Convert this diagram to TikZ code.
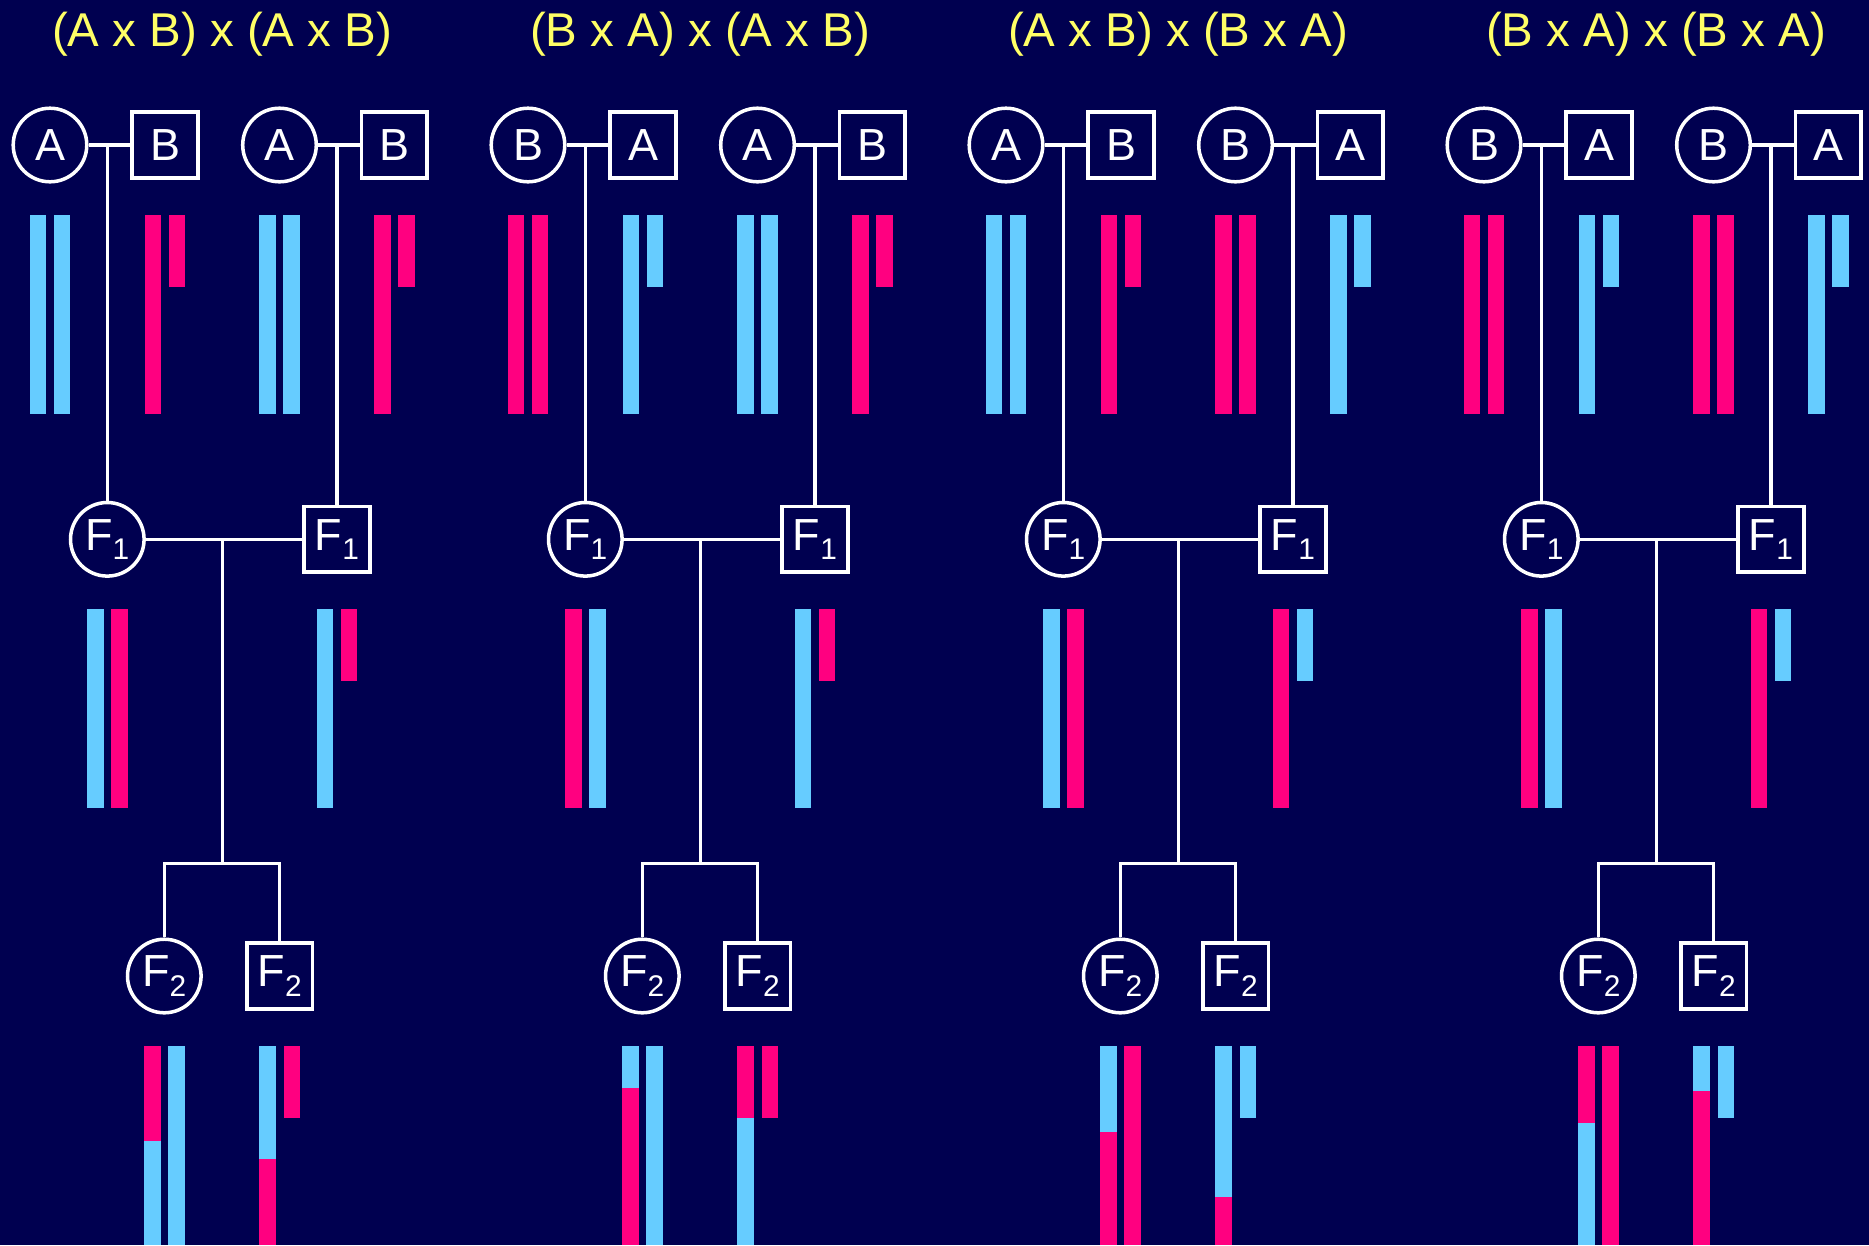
\documentclass[tikz,border=0pt]{standalone}
\usepackage{fontspec}
\setmainfont{Liberation Sans}
\definecolor{bg}{RGB}{0,0,80}
\definecolor{colA}{RGB}{102,204,255}
\definecolor{colB}{RGB}{255,0,128}
\definecolor{ttl}{RGB}{255,255,102}
\tikzset{
  pedline/.style={draw=white, line width=2pt},
  fem/.style={circle, draw=white, line width=2pt, minimum size=1.472cm, inner sep=0pt, text=white, font=\fontsize{25.6}{30}\selectfont},
  mal/.style={rectangle, draw=white, line width=2pt, minimum size=1.312cm, inner sep=0pt, text=white, font=\fontsize{25.6}{30}\selectfont},
  ttlstyle/.style={text=ttl, font=\fontsize{27}{32}\selectfont, anchor=base, inner sep=0pt}
}
\newcommand\psub[1]{\raisebox{-0.21em}{\fontsize{17}{19}\selectfont #1}}
% bars: x-left, y-top, colour
\newcommand\chfull[3]{\fill[#3] ({#1},{#2}) rectangle ++(16.5,199);}
\newcommand\chshort[3]{\fill[#3] ({#1},{#2}) rectangle ++(16.5,72);}
% recombinant: x-left, y-top, top colour, split length, bottom colour
\newcommand\chrec[5]{\fill[#3] ({#1},{#2}) rectangle ++(16.5,#4);\fill[#5] ({#1},{#2+#4}) rectangle ({#1+16.5},{#2+199});}
% pairs: centre x, y-top, left colour, right colour
\newcommand\pairfull[4]{\chfull{#1-20.3}{#2}{#3}\chfull{#1+3.8}{#2}{#4}}
\newcommand\pairshort[4]{\chfull{#1-20.3}{#2}{#3}\chshort{#1+3.8}{#2}{#4}}
\newcommand\pedpanel[6]{%
  \node[ttlstyle] (#1t) at (222,46.7) {#2};
  \node[fem] (#1a) at (50,145) {#3};
  \node[mal] (#1b) at (165,145) {#4};
  \node[fem] (#1c) at (279.5,145) {#5};
  \node[mal] (#1d) at (394.3,145) {#6};
  \node[fem] (#1e) at (107.3,539.3) {F\psub{1}};
  \node[mal] (#1f) at (337,539.3) {F\psub{1}};
  \node[fem] (#1g) at (164.3,976) {F\psub{2}};
  \node[mal] (#1h) at (279.7,976) {F\psub{2}};
  \coordinate (#1ab) at (107.3,145);
  \coordinate (#1cd) at (337,145);
  \coordinate (#1ef) at (222.3,539.3);
  \coordinate (#1sib) at (222.3,863.3);
  \draw[pedline] (#1a) -- (#1b);
  \draw[pedline] (#1c) -- (#1d);
  \draw[pedline] (#1ab) -- (#1e);
  \draw[pedline] (#1cd) -- (#1f);
  \draw[pedline] (#1e) -- (#1f);
  \draw[pedline] (#1ef) -- (#1sib);
  \draw[pedline] (#1g.north) |- (#1sib) -| (#1h.north);
  \pairfull{50}{215}{col#3}{col#3}
  \pairshort{165}{215}{col#4}{col#4}
  \pairfull{279.5}{215}{col#5}{col#5}
  \pairshort{394.3}{215}{col#6}{col#6}
  \pairfull{107.5}{609.3}{col#3}{col#4}
  \pairshort{337}{609.3}{col#5}{col#6}
}
% F2 bars
\newcommand\fbars[8]{%
  \chrec{144}{1045.7}{#1}{#2}{#3}\chfull{168.1}{1045.7}{#4}
  \chrec{259.4}{1045.7}{#5}{#6}{#7}\chshort{283.5}{1045.7}{#8}
}
\begin{document}
\begin{tikzpicture}[x=0.02cm,y=-0.02cm]
\fill[bg] (0,0) rectangle (1869,1245);
\useasboundingbox (0,0) rectangle (1869,1245);
\begin{scope}
  \pedpanel{p1}{(A x B) x (A x B)}{A}{B}{A}{B}
  \fbars{colB}{95}{colA}{colA}{colA}{113.3}{colB}{colB}
\end{scope}
\begin{scope}[shift={(478,0)}]
  \pedpanel{p2}{(B x A) x (A x B)}{B}{A}{A}{B}
  \fbars{colA}{42.6}{colB}{colA}{colB}{72.6}{colA}{colB}
\end{scope}
\begin{scope}[shift={(956,0)}]
  \pedpanel{p3}{(A x B) x (B x A)}{A}{B}{B}{A}
  \fbars{colA}{86.6}{colB}{colB}{colA}{151}{colB}{colA}
\end{scope}
\begin{scope}[shift={(1434,0)}]
  \pedpanel{p4}{(B x A) x (B x A)}{B}{A}{B}{A}
  \fbars{colB}{77}{colA}{colB}{colA}{45}{colB}{colA}
\end{scope}
\end{tikzpicture}
\end{document}
